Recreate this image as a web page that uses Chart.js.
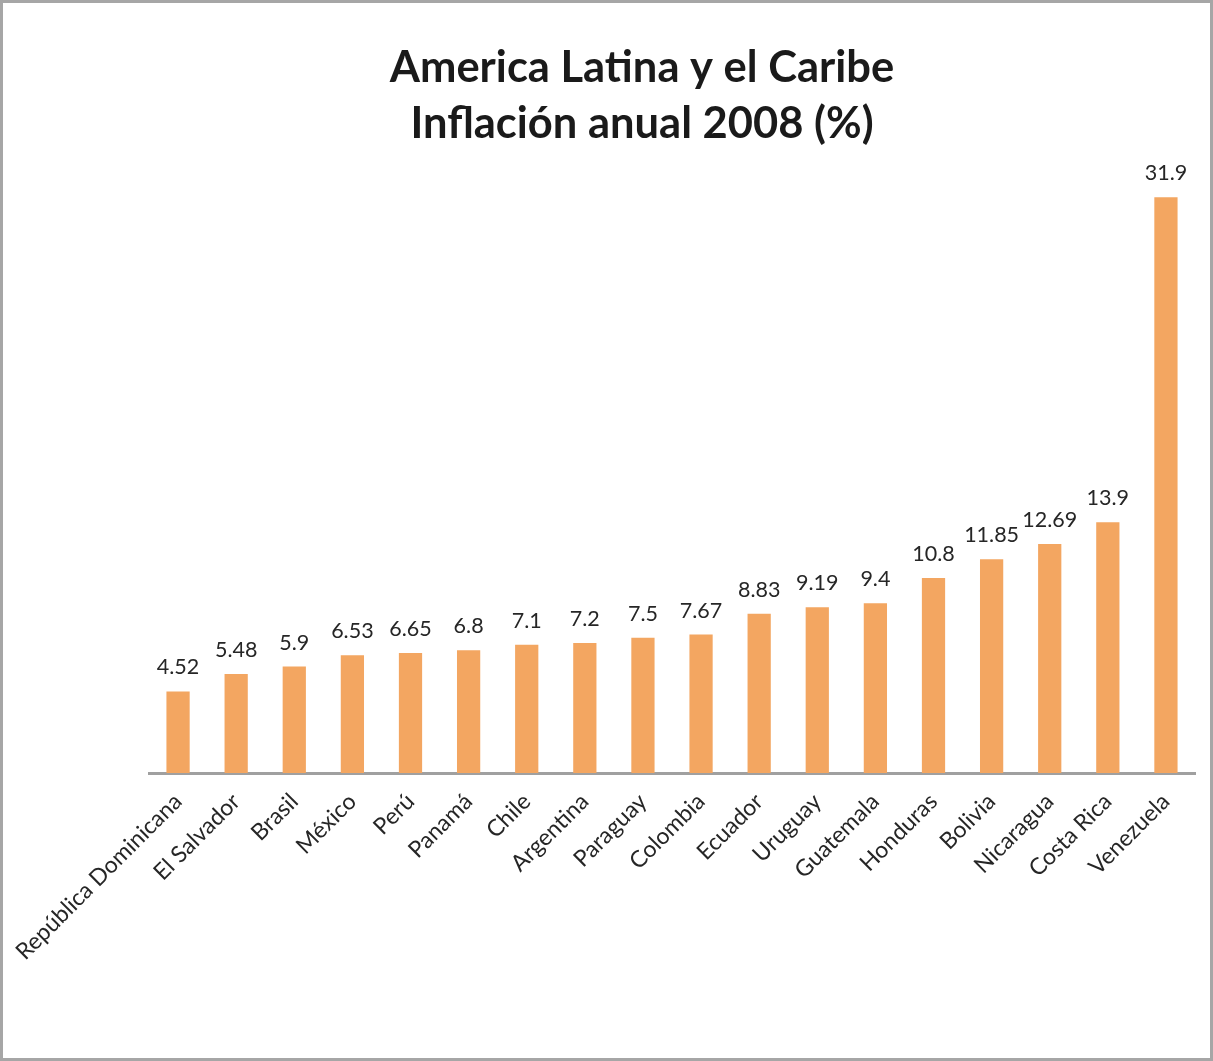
<!DOCTYPE html>
<html>
<head>
<meta charset="utf-8">
<script src="https://cdn.jsdelivr.net/npm/chart.js@4.4.1/dist/chart.umd.min.js"></script>
<style>
  html, body { margin: 0; padding: 0; background: #fff; }
  canvas { display: block; }
</style>
</head>
<body>
<canvas id="c" width="1213" height="1061" style="width:1213px;height:1061px"></canvas>
<script>
const categories = ["República Dominicana", "El Salvador", "Brasil", "México", "Perú", "Panamá", "Chile", "Argentina", "Paraguay", "Colombia", "Ecuador", "Uruguay", "Guatemala", "Honduras", "Bolivia", "Nicaragua", "Costa Rica", "Venezuela"];
const inflation = [4.52, 5.48, 5.9, 6.53, 6.65, 6.8, 7.1, 7.2, 7.5, 7.67, 8.83, 9.19, 9.4, 10.8, 11.85, 12.69, 13.9, 31.9];
const titleLines = ["America Latina y el Caribe", "Inflación anual 2008 (%)"];

const FONT = "Lato, 'Open Sans', sans-serif";

const frame = {
  id: 'frame',
  beforeDraw(chart) {
    const ctx = chart.ctx;
    ctx.save();
    ctx.fillStyle = '#ffffff';
    ctx.fillRect(0, 0, chart.width, chart.height);
    ctx.restore();
  },
  afterDraw(chart) {
    const ctx = chart.ctx;
    ctx.save();
    ctx.strokeStyle = '#A6A6A6';
    ctx.lineWidth = 3;
    ctx.strokeRect(1.5, 1.5, chart.width - 3, chart.height - 3);
    ctx.restore();
  }
};

const valueLabels = {
  id: 'valueLabels',
  afterDatasetsDraw(chart) {
    const ctx = chart.ctx;
    const meta = chart.getDatasetMeta(0);
    ctx.save();
    ctx.font = "21.5px " + FONT;
    ctx.fillStyle = '#262626';
    ctx.textAlign = 'center';
    ctx.textBaseline = 'alphabetic';
    meta.data.forEach((bar, i) => {
      ctx.fillText(String(chart.data.datasets[0].data[i]), bar.x, bar.y - 17);
    });
    ctx.restore();
  }
};

new Chart(document.getElementById('c'), {
  type: 'bar',
  data: {
    labels: categories,
    datasets: [{
      data: inflation,
      backgroundColor: '#F3A661',
      borderWidth: 0,
      barPercentage: 0.4,
      categoryPercentage: 1.0
    }]
  },
  options: {
    responsive: false,
    animation: false,
    devicePixelRatio: 1,
    layout: { padding: { left: 89, right: 18, top: 0, bottom: 0 } },
    plugins: {
      legend: { display: false },
      tooltip: { enabled: false },
      title: {
        display: true,
        text: titleLines,
        color: '#1a1a1a',
        font: { family: FONT, size: 43.5, weight: 'bold', lineHeight: 1.28 },
        padding: { top: 40, bottom: -10 }
      }
    },
    scales: {
      x: {
        grid: { display: false, drawTicks: false },
        border: { display: true, color: '#A0A0A0', width: 3 },
        ticks: {
          color: '#262626',
          font: { family: FONT, size: 23 },
          minRotation: 45,
          maxRotation: 45,
          autoSkip: false,
          padding: 15
        },
        afterFit(scale) {
          scale.paddingLeft = 149;
          scale.paddingRight = 18;
          scale.height = 1061 - 773;
        }
      },
      y: {
        display: false,
        min: 0,
        max: 35
      }
    }
  },
  plugins: [frame, valueLabels]
});
</script>
</body>
</html>
